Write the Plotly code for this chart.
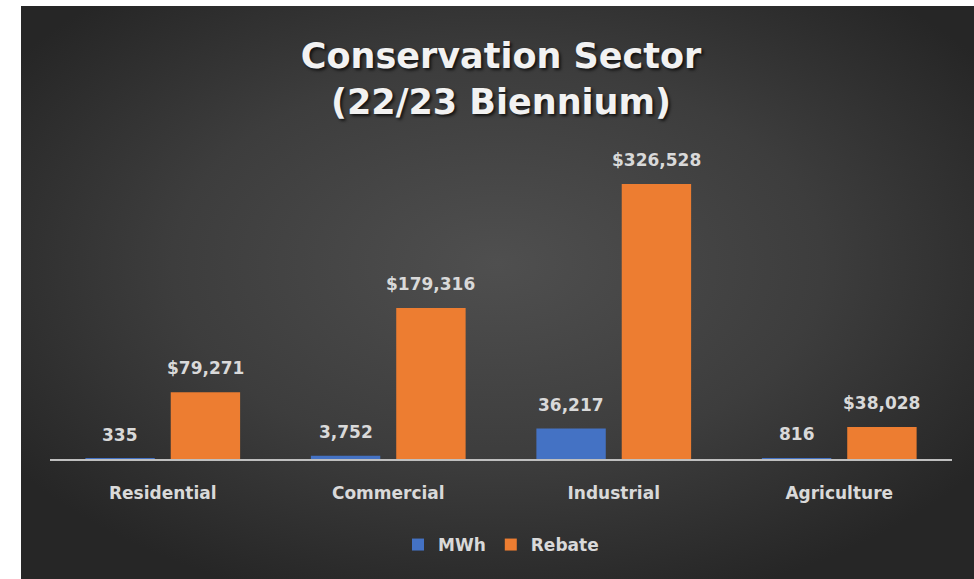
import base64
import plotly.graph_objects as go

categories = ["Residential", "Commercial", "Industrial", "Agriculture"]
mwh_values = [335, 3752, 36217, 816]
rebate_values = [79271, 179316, 326528, 38028]
series_names = ["MWh", "Rebate"]
label_formats = ["{:,}", "${:,}"]
title_text = "Conservation Sector<br>(22/23 Biennium)"

W, H = 974, 579
L, R, T, B = 50, 22, 150, 120
pw, ph = W - L - R, H - T - B
BARGAP, GROUPGAP = 0.243, 0.187


def px_x(px):
    return (px - L) / pw


def px_y(py):
    return (H - B - py) / ph


svg = """<svg xmlns='http://www.w3.org/2000/svg' width='953' height='573' viewBox='0 0 953 573' preserveAspectRatio='none'>
<defs><radialGradient id='g' cx='0.5' cy='0.45' r='0.62' gradientUnits='objectBoundingBox'>
<stop offset='0' stop-color='#4f4f4f'/><stop offset='0.55' stop-color='#3d3d3d'/><stop offset='1' stop-color='#262626'/>
</radialGradient></defs><rect width='953' height='573' fill='url(#g)'/></svg>"""
src = "data:image/svg+xml;base64," + base64.b64encode(svg.encode()).decode()

FONT = "DejaVu Sans"
label_font = dict(family=FONT, size=17, color="#d9d9d9", weight="bold")

fig = go.Figure()
series = [mwh_values, rebate_values]
colors = ["#4472c4", "#ed7d31"]
for name, vals, col in zip(series_names, series, colors):
    fig.add_trace(go.Bar(
        x=categories, y=vals, name=name,
        marker=dict(color=col, line=dict(width=0)),
        hoverinfo="x+y",
    ))

# value labels placed above each bar (offset follows the grouped bar layout)
slot = (1 - BARGAP) / len(series)
annotations = []
for si, (vals, fmt) in enumerate(zip(series, label_formats)):
    off = -(1 - BARGAP) / 2 + slot * (si + 0.5)
    for ci, v in enumerate(vals):
        annotations.append(dict(
            x=ci + off, y=v, xref="x", yref="y", text=fmt.format(v),
            showarrow=False, yanchor="bottom", xanchor="center", yshift=12,
            font=label_font,
        ))

fig.update_layout(
    width=W, height=H,
    margin=dict(l=L, r=R, t=T, b=B),
    paper_bgcolor="white", plot_bgcolor="rgba(0,0,0,0)",
    barmode="group", bargap=BARGAP, bargroupgap=GROUPGAP,
    title=dict(
        text=title_text, x=0.5, xref="paper", xanchor="center",
        y=1 - 68 / H, yanchor="top",
        font=dict(family=FONT, size=35, color="#f2f2f2", weight="bold",
                  shadow="2px 2px 3px rgba(0,0,0,0.7)"),
    ),
    xaxis=dict(
        showgrid=False, showline=True, linecolor="#bfbfbf", linewidth=2,
        ticks="", tickfont=label_font, zeroline=False, ticklabelstandoff=18,
    ),
    yaxis=dict(
        range=[0, 326528 * ph / 275], visible=False, showgrid=False, zeroline=False,
    ),
    legend=dict(
        orientation="h", x=0.5, xanchor="center", y=px_y(545), yanchor="middle",
        font=label_font, bgcolor="rgba(0,0,0,0)", itemwidth=30,
    ),
    annotations=annotations,
    images=[dict(
        source=src, xref="paper", yref="paper",
        x=px_x(21), y=px_y(6), sizex=px_x(974) - px_x(21), sizey=px_y(6) - px_y(579),
        xanchor="left", yanchor="top", sizing="stretch", layer="below",
    )],
)

fig.write_html(
    "out.html",
    config={"displayModeBar": False},
    post_script="document.body.style.margin='0';document.body.style.overflow='hidden';",
)
